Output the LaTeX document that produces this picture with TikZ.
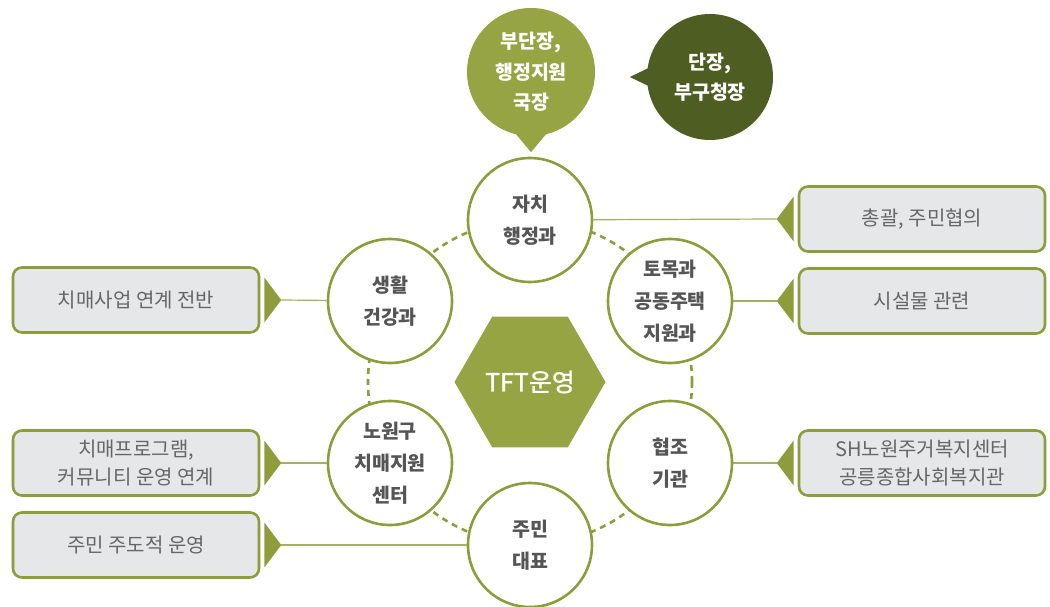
\documentclass[tikz,border=0pt]{standalone}
\usepackage{fontspec}
\setmainfont{Noto Sans CJK KR}
\newfontfamily\tftfont[FakeBold=1.1]{Noto Sans CJK KR}
\usepackage{xcolor}
\usepackage{tikz}
\usetikzlibrary{calc,positioning,shapes.geometric}
\definecolor{olivec}{HTML}{8E9C3B}
\definecolor{oliveb}{HTML}{96A443}
\definecolor{darkc}{HTML}{4E5E22}
\definecolor{boxbg}{HTML}{E6E7E9}
\definecolor{txtc}{HTML}{555555}
\definecolor{linec}{HTML}{A3AF62}
\tikzset{
  dept/.style={circle,draw=olivec,line width=2.6pt,fill=white,minimum size=124pt,inner sep=0pt,align=center,font=\bfseries\fontsize{19.5}{32}\selectfont,text=txtc},
  task/.style={draw=olivec,line width=2.6pt,rounded corners=9pt,fill=boxbg,minimum width=246pt,minimum height=65pt,inner sep=0pt,align=center,font=\fontsize{20}{28}\selectfont,text=txtc!90},
  bub/.style={circle,minimum size=128pt,inner sep=0pt,align=center,text=white,font=\bfseries\fontsize{19.5}{30.5}\selectfont},
  lk/.style={linec,line width=1.2pt}
}
\newcommand{\ptr}[3]{\fill[olivec] ($(#1)+(#2,-22.5)$)--($(#1)+(#2,22.5)$)--($(#1)+(#3,0)$)--cycle;}

\begin{document}
\begin{tikzpicture}[x=1pt,y=-1pt]
\useasboundingbox (0,0) rectangle (1050,607);
\draw[olivec,line width=2.6pt,dash pattern=on 6pt off 5pt] (530,382) circle (162);
\node[bub,fill=oliveb] (b1) at (531,72) {부단장,\\행정지원\\국장};
\fill[oliveb] ($(b1.south)+(-20,-8)$)--($(b1.south)+(20,-8)$)--($(b1.south)+(0,16)$)--cycle;
\node[bub,fill=darkc,minimum size=126pt] (b2) at (710,77) {단장,\\부구청장};
\fill[darkc] ($(b2.west)+(8,-12)$)--($(b2.west)+(8,12)$)--($(b2.west)+(-17,0)$)--cycle;
\node[task] (r1) at (922,219) {총괄, 주민협의};
\node[task] (r2) at (922,301) {시설물 관련};
\node[task] (r3) at (922,463) {SH노원주거복지센터\\공릉종합사회복지관};
\node[task] (l1) at (136,300) {치매사업 연계 전반};
\node[task] (l2) at (136,463) {치매프로그램,\\커뮤니티 운영 연계};
\node[task] (l3) at (136,545) {주민 주도적 운영};
\ptr{r1.west}{-4}{-21} \ptr{r2.west}{-4}{-21} \ptr{r3.west}{-4}{-21}
\ptr{l1.east}{4}{21} \ptr{l2.east}{4}{21} \ptr{l3.east}{4}{21}
\coordinate (t1) at ($(r1.west)+(-21,0)$);
\coordinate (t2) at ($(r2.west)+(-21,0)$);
\coordinate (t3) at ($(r3.west)+(-21,0)$);
\coordinate (t4) at ($(l1.east)+(21,0)$);
\coordinate (t5) at ($(l2.east)+(21,0)$);
\coordinate (t6) at ($(l3.east)+(21,0)$);
\node[dept] (c1) at (530,220) {자치\\행정과};
\node[dept] (c2) at (390,301) {생활\\건강과};
\node[dept] (c3) at (670,301) {토목과\\공동주택\\지원과};
\node[dept] (c4) at (390,463) {노원구\\치매지원\\센터};
\node[dept] (c5) at (670,463) {협조\\기관};
\node[dept] (c6) at (530,545) {주민\\대표};
\draw[lk] (c1) -- (t1); \draw[lk] (c3) -- (t2); \draw[lk] (c5) -- (t3);
\draw[lk] (c2) -- (t4); \draw[lk] (c4) -- (t5); \draw[lk] (c6) -- (t6);
\node[regular polygon,regular polygon sides=6,fill=oliveb,minimum size=151pt,inner sep=0pt,text=white,font=\tftfont\fontsize{25}{28}\selectfont] (tft) at (530,382) {TFT운영};
\end{tikzpicture}
\end{document}
